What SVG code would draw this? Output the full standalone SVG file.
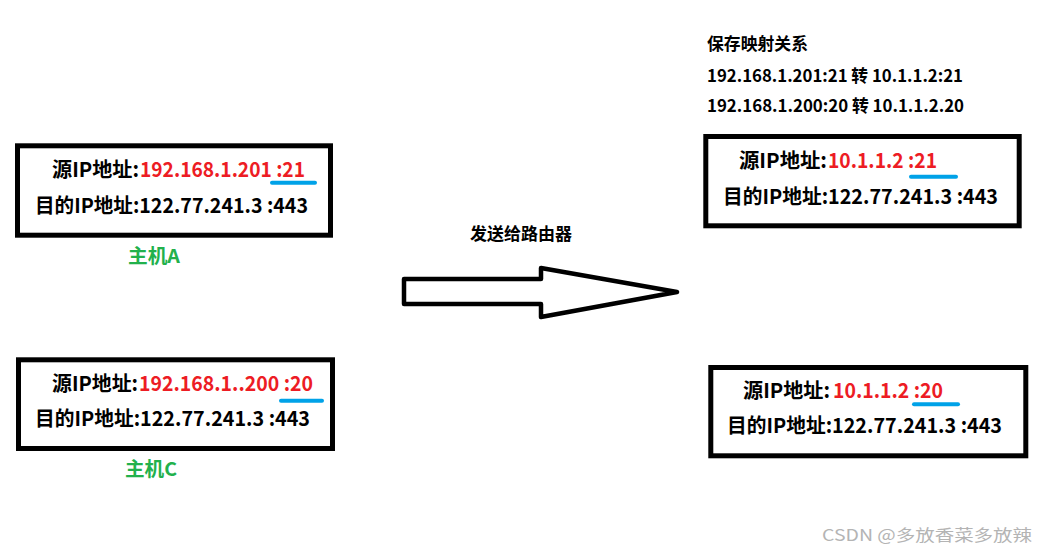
<svg xmlns="http://www.w3.org/2000/svg" width="1048" height="554" viewBox="0 0 1048 554">
<style>
.box{fill:#fff;stroke:#000;stroke-width:5}
.t{font-family:"Microsoft YaHei","Noto Sans CJK SC",sans-serif;font-weight:bold;font-size:20.5px;fill:#000}
.r{fill:#ed1c24}
.s{font-family:"Microsoft YaHei","Noto Sans CJK SC",sans-serif;font-weight:bold;font-size:17.5px;fill:#000}
.g{font-family:"Microsoft YaHei","Noto Sans CJK SC",sans-serif;font-weight:bold;font-size:19px;fill:#22b14c}
.u{stroke:#00a2e8;stroke-width:4;stroke-linecap:round;fill:none}
.w{font-family:"Noto Sans CJK SC",sans-serif;font-size:16px;fill:#b4b4b4}
</style>
<rect width="1048" height="554" fill="#fff"/>

<g id="hostA">
<rect class="box" x="17.5" y="145.8" width="313" height="89.4"/>
<text class="t" x="52" y="177" textLength="87" lengthAdjust="spacingAndGlyphs">源IP地址:</text>
<text class="t r" x="140" y="177" textLength="165" lengthAdjust="spacingAndGlyphs">192.168.1.201 :21</text>
<line class="u" x1="272" y1="182.7" x2="315" y2="182.7"/>
<text class="t" x="35" y="212.7" textLength="273" lengthAdjust="spacingAndGlyphs">目的IP地址:122.77.241.3 :443</text>
<text class="g" x="128" y="263" textLength="52" lengthAdjust="spacingAndGlyphs">主机A</text>
</g>

<g id="hostC">
<rect class="box" x="18.5" y="359.8" width="314" height="88.7"/>
<text class="t" x="52" y="390.7" textLength="86" lengthAdjust="spacingAndGlyphs">源IP地址:</text>
<text class="t r" x="139" y="390.7" textLength="174" lengthAdjust="spacingAndGlyphs">192.168.1..200 :20</text>
<line class="u" x1="281" y1="400.7" x2="322" y2="400.7"/>
<text class="t" x="35" y="426" textLength="275" lengthAdjust="spacingAndGlyphs">目的IP地址:122.77.241.3 :443</text>
<text class="g" x="125" y="476" textLength="52" lengthAdjust="spacingAndGlyphs">主机C</text>
</g>

<g id="mapping">
<text class="s" x="707" y="49.5" font-size="15.5" textLength="101" lengthAdjust="spacingAndGlyphs">保存映射关系</text>
<text class="s" x="707" y="82.3" textLength="256" lengthAdjust="spacingAndGlyphs">192.168.1.201:21 转 10.1.1.2:21</text>
<text class="s" x="707" y="112.3" textLength="257" lengthAdjust="spacingAndGlyphs">192.168.1.200:20 转 10.1.1.2.20</text>
</g>

<g id="natB">
<rect class="box" x="705.8" y="136.5" width="313.4" height="89.3"/>
<text class="t" x="739" y="168.3" textLength="88" lengthAdjust="spacingAndGlyphs">源IP地址:</text>
<text class="t r" x="828" y="168.3" textLength="109" lengthAdjust="spacingAndGlyphs">10.1.1.2 :21</text>
<line class="u" x1="911" y1="176.7" x2="956" y2="176.7"/>
<text class="t" x="723" y="204" textLength="275" lengthAdjust="spacingAndGlyphs">目的IP地址:122.77.241.3 :443</text>
</g>

<g id="natD">
<rect class="box" x="710.8" y="367.5" width="315" height="88.3"/>
<text class="t" x="743" y="398.3" textLength="87" lengthAdjust="spacingAndGlyphs">源IP地址:</text>
<text class="t r" x="833" y="398.3" textLength="110" lengthAdjust="spacingAndGlyphs">10.1.1.2 :20</text>
<line class="u" x1="914" y1="404.3" x2="958" y2="404.3"/>
<text class="t" x="727" y="432.7" textLength="275" lengthAdjust="spacingAndGlyphs">目的IP地址:122.77.241.3 :443</text>
</g>

<g id="connectors">
<polygon points="404,279 541,279 541,268 677,292 541,317 541,304 404,304" fill="#fff" stroke="#000" stroke-width="4.5" stroke-linejoin="round"/>
<text class="s" x="470" y="240" font-size="16.5" textLength="102" lengthAdjust="spacingAndGlyphs">发送给路由器</text>
</g>

<text class="w" x="822" y="541" textLength="210" lengthAdjust="spacingAndGlyphs">CSDN @多放香菜多放辣</text>
</svg>
